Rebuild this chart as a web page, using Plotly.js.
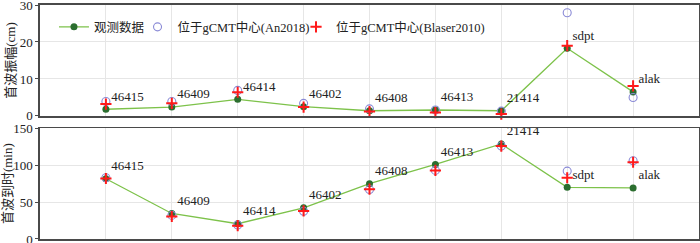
<!DOCTYPE html>
<html><head><meta charset="utf-8">
<script src="https://cdn.plot.ly/plotly-3.0.1.min.js"></script>
<style>html,body{margin:0;padding:0;background:#fff}#c{width:700px;height:243px}</style>
</head><body><div id="c"></div>
<script>
const categories = ['46415','46409','46414','46402','46408','46413','21414','sdpt','alak'];
const ampObs    = [1.8, 2.4, 4.5, 2.5, 1.4, 1.6, 1.4, 18.3, 6.5];
const ampAn     = [3.9, 3.9, 6.9, 3.4, 1.9, 1.6, 1.3, 27.9, 5.0];
const ampBlaser = [3.2, 3.4, 6.4, 2.4, 1.2, 0.9, 0.5, 19.0, 8.1];
const arrObs    = [81.7, 34.6, 20.7, 42.3, 75, 101, 128.8, 70, 69.2];
const arrAn     = [83, 32, 19, 37.7, 67, 93, 126, 92, 106];
const arrBlaser = [82, 30.5, 18, 38, 67.5, 93, 126, 83, 104];
const seriesNames = ['观测数据','位于gCMT中心(An2018)','位于gCMT中心(Blaser2010)'];
const yTitles = ['首波振幅(cm)','首波到时(min)'];

const FONT = '"Liberation Serif", "Noto Sans CJK SC", serif';
const lineGreen = '#7dc24a', dotGreen = '#2b6e2f', circ = '#8a8ad6', red = '#ff1a1a';

function obsTrace(y, xa, ya, show){
  return {x: categories, y: y, xaxis: xa, yaxis: ya, name: seriesNames[0], showlegend: show, legend: 'legend',
    mode: 'lines+markers+text', text: categories, textposition: 'top right',
    textfont: {family: FONT, size: 13, color: '#222'},
    line: {color: lineGreen, width: 1.3},
    marker: {color: dotGreen, size: 7, symbol: 'circle'}, cliponaxis: false};
}
function anTrace(y, xa, ya, show){
  return {x: categories, y: y, xaxis: xa, yaxis: ya, name: seriesNames[1], showlegend: show, legend: 'legend2',
    mode: 'markers', marker: {symbol: 'circle-open', size: 8, color: circ, line: {width: 1.1, color: circ}}, cliponaxis: false};
}
function blTrace(y, xa, ya, show){
  return {x: categories, y: y, xaxis: xa, yaxis: ya, name: seriesNames[2], showlegend: show, legend: 'legend3',
    mode: 'markers', marker: {symbol: 'cross-thin-open', size: 8, color: red, line: {width: 2, color: red}}, cliponaxis: false};
}

const data = [
  obsTrace(ampObs,'x','y',true), anTrace(ampAn,'x','y',true), blTrace(ampBlaser,'x','y',true),
  obsTrace(arrObs,'x2','y2',false), anTrace(arrAn,'x2','y2',false), blTrace(arrBlaser,'x2','y2',false)
];

const xbase = {type:'category', range:[-1, 9], showticklabels:false, ticks:'', showgrid:true,
  gridcolor:'#e6e6e6', gridwidth:1, showline:true, mirror:true, linecolor:'#4a4a4a', linewidth:1.6, zeroline:false, fixedrange:true};
const ybase = {showgrid:true, gridcolor:'#e6e6e6', showline:true, mirror:true, linecolor:'#4a4a4a', linewidth:1.6,
  ticks:'outside', ticklen:3, tickcolor:'#4a4a4a', zeroline:false, tickfont:{family:FONT, size:13, color:'#222'},
  automargin:false, ticklabeloverflow:'allow'};

function leg(x){
  return {orientation:'h', x:x, y:0.905, xanchor:'left', yanchor:'middle', bgcolor:'rgba(0,0,0,0)',
    font:{family:FONT, size:12.5, color:'#222'}, itemwidth:30, borderwidth:0};
}

const layout = {
  width:700, height:243, margin:{l:40, r:1, t:5, b:4},
  paper_bgcolor:'#fff', plot_bgcolor:'#fff',
  font:{family:FONT, size:13, color:'#222'},
  showlegend:true,
  legend: leg(0.0212), legend2: leg(0.148), legend3: leg(0.3885),
  xaxis: Object.assign({}, xbase, {anchor:'y', domain:[0,1]}),
  xaxis2: Object.assign({}, xbase, {anchor:'y2', domain:[0,1]}),
  yaxis: Object.assign({}, ybase, {anchor:'x', domain:[0.526,1], range:[0,30], dtick:10,
    title:{text:yTitles[0], standoff:1, font:{family:FONT, size:13, color:'#222'}}}),
  yaxis2: Object.assign({}, ybase, {anchor:'x2', domain:[0,0.473], range:[0,150], dtick:50,
    title:{text:yTitles[1], standoff:1, font:{family:FONT, size:13, color:'#222'}}})
};
Plotly.newPlot('c', data, layout, {displayModeBar:false, staticPlot:true});
</script></body></html>
